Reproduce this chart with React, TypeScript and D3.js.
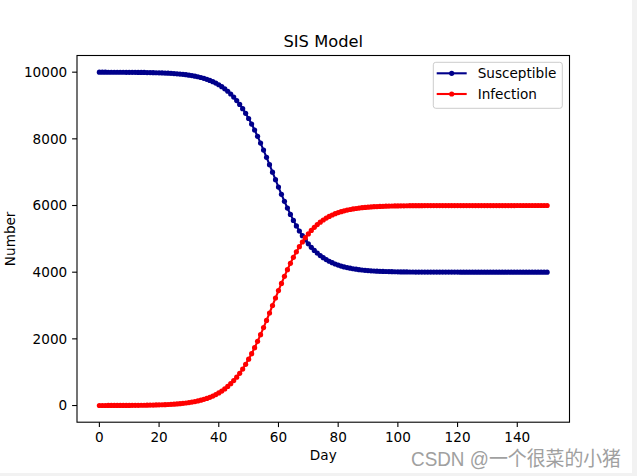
import React from "react";
import * as d3 from "d3";

const days: number[] = Array.from({ length: 151 }, (_, i) => i);

const infection: number[] = [
  1, 1, 1, 2, 2, 2, 2, 3, 3, 4,
  4, 5, 6, 7, 8, 9, 11, 13, 15, 17,
  20, 23, 27, 31, 36, 42, 49, 57, 66, 76,
  89, 103, 119, 138, 160, 185, 214, 247, 285, 328,
  378, 435, 499, 572, 655, 748, 852, 967, 1095, 1236,
  1390, 1556, 1735, 1926, 2127, 2337, 2554, 2776, 3001, 3225,
  3447, 3664, 3875, 4076, 4267, 4446, 4612, 4765, 4906, 5034,
  5149, 5253, 5346, 5428, 5501, 5566, 5622, 5672, 5715, 5754,
  5787, 5816, 5841, 5862, 5881, 5897, 5911, 5924, 5934, 5943,
  5951, 5958, 5964, 5969, 5973, 5977, 5980, 5983, 5985, 5987,
  5989, 5991, 5992, 5993, 5994, 5995, 5996, 5996, 5996, 5997,
  5997, 5997, 5997, 5998, 5998, 5998, 5998, 5998, 5998, 5998,
  5998, 5999, 5999, 5999, 5999, 5999, 5999, 5999, 5999, 5999,
  5999, 5999, 5999, 5999, 5999, 5999, 5999, 5999, 5999, 5999,
  6000, 6000, 6000, 6000, 6000, 6000, 6000, 6000, 6000, 6000,
  6000,
];

const susceptible: number[] = [
  9999, 9999, 9999, 9998, 9998, 9998, 9998, 9997, 9997, 9996,
  9996, 9995, 9994, 9993, 9992, 9991, 9989, 9987, 9985, 9983,
  9980, 9977, 9973, 9969, 9964, 9958, 9951, 9943, 9934, 9924,
  9911, 9897, 9881, 9862, 9840, 9815, 9786, 9753, 9715, 9672,
  9622, 9565, 9501, 9428, 9345, 9252, 9148, 9033, 8905, 8764,
  8610, 8444, 8265, 8074, 7873, 7663, 7446, 7224, 6999, 6775,
  6553, 6336, 6125, 5924, 5733, 5554, 5388, 5235, 5094, 4966,
  4851, 4747, 4654, 4572, 4499, 4434, 4378, 4328, 4285, 4246,
  4213, 4184, 4159, 4138, 4119, 4103, 4089, 4076, 4066, 4057,
  4049, 4042, 4036, 4031, 4027, 4023, 4020, 4017, 4015, 4013,
  4011, 4009, 4008, 4007, 4006, 4005, 4004, 4004, 4004, 4003,
  4003, 4003, 4003, 4002, 4002, 4002, 4002, 4002, 4002, 4002,
  4002, 4001, 4001, 4001, 4001, 4001, 4001, 4001, 4001, 4001,
  4001, 4001, 4001, 4001, 4001, 4001, 4001, 4001, 4001, 4001,
  4000, 4000, 4000, 4000, 4000, 4000, 4000, 4000, 4000, 4000,
  4000,
];

const xTicks: number[] = [0, 20, 40, 60, 80, 100, 120, 140];
const yTicks: number[] = [0, 2000, 4000, 6000, 8000, 10000];

const seriesNames: string[] = ["Susceptible", "Infection"];
const seriesColors: string[] = ["#00008b", "#ff0000"];

const W = 637;
const H = 476;
const FONT = "'DejaVu Sans', sans-serif";

export default function App() {
  const x = d3.scaleLinear().domain([-7.5, 157.5]).range([77, 569.5]);
  const y = d3.scaleLinear().domain([-500, 10500]).range([422.2, 55.5]);

  const line = d3
    .line<[number, number]>()
    .x((d) => x(d[0]))
    .y((d) => y(d[1]));

  const series = [susceptible, infection].map((vals) =>
    days.map((d, i) => [d, vals[i]] as [number, number])
  );

  const [x0, x1] = x.range();
  const [yb, yt] = y.range();

  return (
    <svg
      width={W}
      height={H}
      style={{ position: "absolute", left: 0, top: 0 }}
      fontFamily={FONT}
    >
      <rect x={0} y={0} width={W} height={H} fill="#ffffff" />
      <rect x={632} y={0} width={W - 632} height={H} fill="#f2f2f2" />
      <rect x={0} y={473} width={W} height={H - 473} fill="#f2f2f2" />

      {/* series */}
      {series.map((pts, si) => (
        <g key={si}>
          <path
            d={line(pts) || ""}
            fill="none"
            stroke={seriesColors[si]}
            strokeWidth={2.1}
          />
          {pts.map((p, i) => (
            <circle
              key={i}
              cx={x(p[0])}
              cy={y(p[1])}
              r={2.6}
              fill={seriesColors[si]}
            />
          ))}
        </g>
      ))}

      {/* frame */}
      <rect
        x={x0}
        y={yt}
        width={x1 - x0}
        height={yb - yt}
        fill="none"
        stroke="#000"
        strokeWidth={1.1}
      />

      {/* x ticks */}
      {xTicks.map((t) => (
        <g key={t}>
          <line x1={x(t)} x2={x(t)} y1={yb} y2={yb + 4.9} stroke="#000" strokeWidth={1.1} />
          <text
            x={x(t)}
            y={442.3}
            textAnchor="middle"
            fontSize={13.6}
            fill="#000"
          >
            {t}
          </text>
        </g>
      ))}

      {/* y ticks */}
      {yTicks.map((t) => (
        <g key={t}>
          <line x1={x0 - 4.9} x2={x0} y1={y(t)} y2={y(t)} stroke="#000" strokeWidth={1.1} />
          <text
            x={x0 - 9.8}
            y={y(t)}
            dy="0.35em"
            textAnchor="end"
            fontSize={13.6}
            fill="#000"
          >
            {t}
          </text>
        </g>
      ))}

      {/* labels */}
      <text x={(x0 + x1) / 2} y={47} textAnchor="middle" fontSize={16.3} fill="#000">
        SIS Model
      </text>
      <text x={(x0 + x1) / 2} y={460} textAnchor="middle" fontSize={13.6} fill="#000">
        Day
      </text>
      <text
        transform={`translate(15, ${(yb + yt) / 2}) rotate(-90)`}
        textAnchor="middle"
        fontSize={13.6}
        fill="#000"
      >
        Number
      </text>

      {/* legend */}
      <rect
        x={433.3}
        y={62.3}
        width={129}
        height={46}
        rx={2.5}
        fill="#ffffff"
        fillOpacity={0.8}
        stroke="#cccccc"
        strokeWidth={1}
      />
      {seriesNames.map((n, i) => {
        const cy = 73.3 + i * 20.7;
        return (
          <g key={n}>
            <line x1={436.7} x2={466.7} y1={cy} y2={cy} stroke={seriesColors[i]} strokeWidth={2.1} />
            <circle cx={451.7} cy={cy} r={2.6} fill={seriesColors[i]} />
            <text x={477.7} y={cy} dy="0.35em" fontSize={13.6} fill="#000">
              {n}
            </text>
          </g>
        );
      })}

      {/* watermark */}
      <text
        x={411}
        y={466}
        fontSize={20}
        fill="#a0a0a0"
        textLength={210}
        lengthAdjust="spacingAndGlyphs"
        fontFamily="'Liberation Sans', 'Noto Sans CJK SC', sans-serif"
      >
        CSDN @一个很菜的小猪
      </text>
    </svg>
  );
}
